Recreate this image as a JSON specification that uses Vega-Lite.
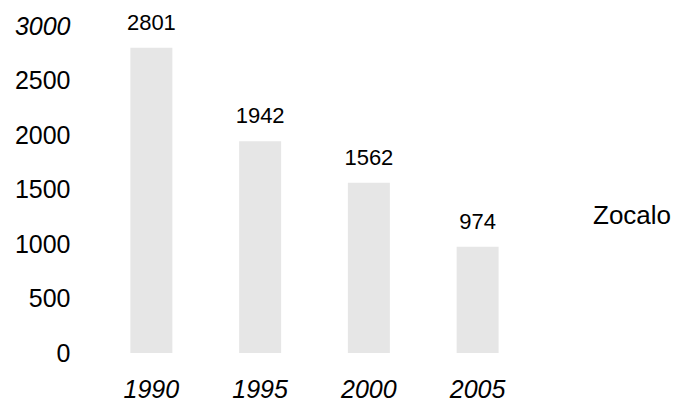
{
  "$schema": "https://vega.github.io/schema/vega-lite/v6.json",
  "width": 435,
  "height": 327,
  "autosize": {"type": "none"},
  "padding": {"left": 97, "top": 26, "right": 145, "bottom": 50},
  "background": "white",
  "config": {
    "view": {"stroke": null},
    "font": "Liberation Sans",
    "text": {"font": "Liberation Sans"}
  },
  "data": {
    "values": [
      {"year": "1990", "value": 2801, "series": "Zocalo"},
      {"year": "1995", "value": 1942, "series": "Zocalo"},
      {"year": "2000", "value": 1562, "series": "Zocalo"},
      {"year": "2005", "value": 974, "series": "Zocalo"}
    ]
  },
  "encoding": {
    "x": {
      "field": "year",
      "type": "ordinal",
      "scale": {"paddingInner": 0.614, "paddingOuter": 0.307},
      "axis": {
        "title": null,
        "domain": false,
        "ticks": false,
        "labelAngle": 0,
        "labelFont": "Liberation Sans",
        "labelFontSize": 25,
        "labelFontStyle": "italic",
        "labelColor": "#000000",
        "labelPadding": 24
      }
    },
    "y": {
      "field": "value",
      "type": "quantitative",
      "scale": {"domain": [0, 3000], "nice": false},
      "axis": {
        "title": null,
        "domain": false,
        "ticks": false,
        "grid": false,
        "format": "d",
        "values": [0, 500, 1000, 1500, 2000, 2500, 3000],
        "labelFont": "Liberation Sans",
        "labelFontSize": 25,
        "labelFontStyle": {"condition": {"test": "datum.value == 3000", "value": "italic"}, "value": "normal"},
        "labelColor": "#000000",
        "labelPadding": 27
      }
    }
  },
  "layer": [
    {
      "mark": {"type": "bar"},
      "encoding": {
        "color": {
          "field": "series",
          "type": "nominal",
          "scale": {"range": ["#e6e6e6"]},
          "legend": {
            "title": null,
            "orient": "none",
            "legendX": 470,
            "legendY": 177,
            "padding": 0,
            "symbolOpacity": 0,
            "symbolSize": 0,
            "symbolStrokeWidth": 0,
            "labelOffset": 0,
            "labelFont": "Liberation Sans",
            "labelFontSize": 26,
            "labelColor": "#000000",
            "labelLimit": 300
          }
        }
      }
    },
    {
      "mark": {"type": "text", "baseline": "middle", "dy": -25, "fontSize": 22, "color": "#000000", "font": "Liberation Sans"},
      "encoding": {
        "text": {"field": "value", "type": "quantitative", "format": "d"}
      }
    }
  ]
}
